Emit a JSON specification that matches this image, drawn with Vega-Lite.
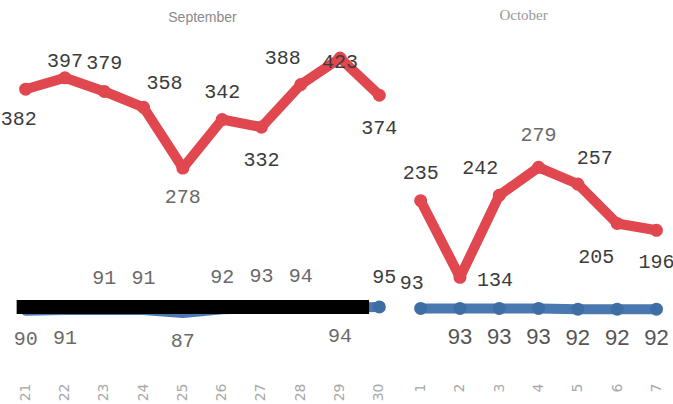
{
  "$schema": "https://vega.github.io/schema/vega-lite/v6.json",
  "background": "white",
  "padding": {"left": 0, "top": 8, "right": 0, "bottom": 0},
  "spacing": 0,
  "config": {"view": {"stroke": null}, "concat": {"spacing": 0}},
  "data": {"values": [
    {"month": "September", "day": 21, "total": 382, "rate": 90},
    {"month": "September", "day": 22, "total": 397, "rate": 91},
    {"month": "September", "day": 23, "total": 379, "rate": 91},
    {"month": "September", "day": 24, "total": 358, "rate": 91},
    {"month": "September", "day": 25, "total": 278, "rate": 87},
    {"month": "September", "day": 26, "total": 342, "rate": 92},
    {"month": "September", "day": 27, "total": 332, "rate": 93},
    {"month": "September", "day": 28, "total": 388, "rate": 94},
    {"month": "September", "day": 29, "total": 423, "rate": 94},
    {"month": "September", "day": 30, "total": 374, "rate": 95},
    {"month": "October", "day": 1, "total": 235, "rate": 93},
    {"month": "October", "day": 2, "total": 134, "rate": 93},
    {"month": "October", "day": 3, "total": 242, "rate": 93},
    {"month": "October", "day": 4, "total": 279, "rate": 93},
    {"month": "October", "day": 5, "total": 257, "rate": 92},
    {"month": "October", "day": 6, "total": 205, "rate": 92},
    {"month": "October", "day": 7, "total": 196, "rate": 92}
  ]},
  "hconcat": [
    {
      "width": {"step": 39.3},
      "height": 349,
      "title": {"text": "September", "font": "Liberation Sans", "fontSize": 14, "fontWeight": "normal", "color": "#8a8a8a", "anchor": "middle", "offset": 12, "dy": 7},
      "transform": [{"filter": "datum.month === 'September'"}],
      "encoding": {
        "x": {"field": "day", "type": "ordinal", "title": null,
          "axis": {"labelAngle": -90, "domain": false, "ticks": false, "grid": false, "labelColor": "#a8a8a8", "labelFontSize": 14, "labelFont": "DejaVu Sans", "labelPadding": 4}}
      },
      "layer": [
        {"mark": {"type": "line", "color": "#4a78b0", "strokeWidth": 10, "strokeCap": "round", "strokeJoin": "round"},
         "encoding": {"y": {"field": "rate", "type": "quantitative", "scale": {"domain": [0, 460], "nice": false}, "axis": null}}},
        {"transform": [{"filter": "datum.day === 30"}],
         "mark": {"type": "point", "filled": true, "color": "#3f6ea5", "opacity": 1, "size": 170},
         "encoding": {"y": {"field": "rate", "type": "quantitative", "scale": {"domain": [0, 460], "nice": false}, "axis": null}}},
        {"transform": [{"filter": "datum.day === 21"}],
         "mark": {"type": "rule", "color": "black", "strokeWidth": 14, "xOffset": -9, "x2Offset": 29},
         "encoding": {"x2": {"datum": 29}, "y": {"datum": 95, "type": "quantitative", "scale": {"domain": [0, 460], "nice": false}, "axis": null}}},
        {"mark": {"type": "line", "color": "#e0474f", "strokeWidth": 10, "strokeCap": "round", "strokeJoin": "round"},
         "encoding": {"y": {"field": "total", "type": "quantitative", "scale": {"domain": [0, 460], "nice": false}, "axis": null}}},
        {"mark": {"type": "point", "filled": true, "color": "#e0474f", "opacity": 1, "size": 170},
         "encoding": {"y": {"field": "total", "type": "quantitative", "scale": {"domain": [0, 460], "nice": false}, "axis": null}}},
        {"transform": [{"filter": {"field": "day", "oneOf": [23, 26]}}],
         "mark": {"type": "text", "font": "Liberation Mono", "fontSize": 20, "color": "#3c3c3c", "dy": -28},
         "encoding": {"y": {"field": "total", "type": "quantitative", "scale": {"domain": [0, 460], "nice": false}, "axis": null}, "text": {"field": "total", "type": "quantitative"}}},
        {"transform": [{"filter": {"field": "day", "oneOf": [22]}}],
         "mark": {"type": "text", "font": "Liberation Mono", "fontSize": 20, "color": "#3c3c3c", "dy": -17},
         "encoding": {"y": {"field": "total", "type": "quantitative", "scale": {"domain": [0, 460], "nice": false}, "axis": null}, "text": {"field": "total", "type": "quantitative"}}},
        {"transform": [{"filter": {"field": "day", "oneOf": [28]}}],
         "mark": {"type": "text", "font": "Liberation Mono", "fontSize": 20, "color": "#3c3c3c", "dx": -18, "dy": -27},
         "encoding": {"y": {"field": "total", "type": "quantitative", "scale": {"domain": [0, 460], "nice": false}, "axis": null}, "text": {"field": "total", "type": "quantitative"}}},
        {"transform": [{"filter": {"field": "day", "oneOf": [24]}}],
         "mark": {"type": "text", "font": "Liberation Mono", "fontSize": 20, "color": "#3c3c3c", "dx": 21, "dy": -24},
         "encoding": {"y": {"field": "total", "type": "quantitative", "scale": {"domain": [0, 460], "nice": false}, "axis": null}, "text": {"field": "total", "type": "quantitative"}}},
        {"transform": [{"filter": {"field": "day", "oneOf": [21]}}],
         "mark": {"type": "text", "font": "Liberation Mono", "fontSize": 20, "color": "#3c3c3c", "dx": -7, "dy": 30},
         "encoding": {"y": {"field": "total", "type": "quantitative", "scale": {"domain": [0, 460], "nice": false}, "axis": null}, "text": {"field": "total", "type": "quantitative"}}},
        {"transform": [{"filter": {"field": "day", "oneOf": [27, 30]}}],
         "mark": {"type": "text", "font": "Liberation Mono", "fontSize": 20, "color": "#3c3c3c", "dy": 33},
         "encoding": {"y": {"field": "total", "type": "quantitative", "scale": {"domain": [0, 460], "nice": false}, "axis": null}, "text": {"field": "total", "type": "quantitative"}}},
        {"transform": [{"filter": {"field": "day", "oneOf": [25]}}],
         "mark": {"type": "text", "font": "Liberation Mono", "fontSize": 20, "color": "#6a6a6a", "dy": 29},
         "encoding": {"y": {"field": "total", "type": "quantitative", "scale": {"domain": [0, 460], "nice": false}, "axis": null}, "text": {"field": "total", "type": "quantitative"}}},
        {"transform": [{"filter": {"field": "day", "oneOf": [29]}}],
         "mark": {"type": "text", "font": "Liberation Mono", "fontSize": 20, "color": "#3c3c3c", "dy": 4},
         "encoding": {"y": {"field": "total", "type": "quantitative", "scale": {"domain": [0, 460], "nice": false}, "axis": null}, "text": {"field": "total", "type": "quantitative"}}},
        {"transform": [{"filter": {"field": "day", "oneOf": [23, 24, 26, 27, 28]}}],
         "mark": {"type": "text", "font": "Liberation Mono", "fontSize": 20, "color": "#6a6a6a", "dy": -32},
         "encoding": {"y": {"field": "rate", "type": "quantitative", "scale": {"domain": [0, 460], "nice": false}, "axis": null}, "text": {"field": "rate", "type": "quantitative"}}},
        {"transform": [{"filter": {"field": "day", "oneOf": [30]}}],
         "mark": {"type": "text", "font": "Liberation Mono", "fontSize": 20, "color": "#3c3c3c", "dx": 5, "dy": -30},
         "encoding": {"y": {"field": "rate", "type": "quantitative", "scale": {"domain": [0, 460], "nice": false}, "axis": null}, "text": {"field": "rate", "type": "quantitative"}}},
        {"transform": [{"filter": {"field": "day", "oneOf": [21, 22, 25, 29]}}],
         "mark": {"type": "text", "font": "Liberation Mono", "fontSize": 20, "color": "#6a6a6a", "dy": 28},
         "encoding": {"y": {"field": "rate", "type": "quantitative", "scale": {"domain": [0, 460], "nice": false}, "axis": null}, "text": {"field": "rate", "type": "quantitative"}}}
      ]
    },
    {
      "width": {"step": 39.3},
      "height": 349,
      "title": {"text": "October", "font": "Liberation Serif", "fontSize": 15, "fontWeight": "normal", "color": "#999999", "anchor": "middle", "offset": 12, "dx": -15, "dy": 5},
      "transform": [{"filter": "datum.month === 'October'"}],
      "encoding": {
        "x": {"field": "day", "type": "ordinal", "title": null,
          "axis": {"labelAngle": -90, "domain": false, "ticks": false, "grid": false, "labelColor": "#a8a8a8", "labelFontSize": 14, "labelFont": "DejaVu Sans", "labelPadding": 4}}
      },
      "layer": [
        {"mark": {"type": "line", "color": "#4a78b0", "strokeWidth": 10, "strokeCap": "round", "strokeJoin": "round"},
         "encoding": {"y": {"field": "rate", "type": "quantitative", "scale": {"domain": [0, 460], "nice": false}, "axis": null}}},
        {"mark": {"type": "point", "filled": true, "color": "#3f6ea5", "opacity": 1, "size": 170},
         "encoding": {"y": {"field": "rate", "type": "quantitative", "scale": {"domain": [0, 460], "nice": false}, "axis": null}}},
        {"mark": {"type": "line", "color": "#e0474f", "strokeWidth": 10, "strokeCap": "round", "strokeJoin": "round"},
         "encoding": {"y": {"field": "total", "type": "quantitative", "scale": {"domain": [0, 460], "nice": false}, "axis": null}}},
        {"mark": {"type": "point", "filled": true, "color": "#e0474f", "opacity": 1, "size": 170},
         "encoding": {"y": {"field": "total", "type": "quantitative", "scale": {"domain": [0, 460], "nice": false}, "axis": null}}},
        {"transform": [{"filter": {"field": "day", "oneOf": [1]}}],
         "mark": {"type": "text", "font": "Liberation Mono", "fontSize": 20, "color": "#3c3c3c", "dy": -28},
         "encoding": {"y": {"field": "total", "type": "quantitative", "scale": {"domain": [0, 460], "nice": false}, "axis": null}, "text": {"field": "total", "type": "quantitative"}}},
        {"transform": [{"filter": {"field": "day", "oneOf": [4]}}],
         "mark": {"type": "text", "font": "Liberation Mono", "fontSize": 20, "color": "#6a6a6a", "dy": -32},
         "encoding": {"y": {"field": "total", "type": "quantitative", "scale": {"domain": [0, 460], "nice": false}, "axis": null}, "text": {"field": "total", "type": "quantitative"}}},
        {"transform": [{"filter": {"field": "day", "oneOf": [3]}}],
         "mark": {"type": "text", "font": "Liberation Mono", "fontSize": 20, "color": "#3c3c3c", "dx": -19, "dy": -27},
         "encoding": {"y": {"field": "total", "type": "quantitative", "scale": {"domain": [0, 460], "nice": false}, "axis": null}, "text": {"field": "total", "type": "quantitative"}}},
        {"transform": [{"filter": {"field": "day", "oneOf": [5]}}],
         "mark": {"type": "text", "font": "Liberation Mono", "fontSize": 20, "color": "#3c3c3c", "dx": 17, "dy": -26},
         "encoding": {"y": {"field": "total", "type": "quantitative", "scale": {"domain": [0, 460], "nice": false}, "axis": null}, "text": {"field": "total", "type": "quantitative"}}},
        {"transform": [{"filter": {"field": "day", "oneOf": [2]}}],
         "mark": {"type": "text", "font": "Liberation Mono", "fontSize": 20, "color": "#3c3c3c", "dx": 35, "dy": 3},
         "encoding": {"y": {"field": "total", "type": "quantitative", "scale": {"domain": [0, 460], "nice": false}, "axis": null}, "text": {"field": "total", "type": "quantitative"}}},
        {"transform": [{"filter": {"field": "day", "oneOf": [6]}}],
         "mark": {"type": "text", "font": "Liberation Mono", "fontSize": 20, "color": "#3c3c3c", "dx": -21, "dy": 34},
         "encoding": {"y": {"field": "total", "type": "quantitative", "scale": {"domain": [0, 460], "nice": false}, "axis": null}, "text": {"field": "total", "type": "quantitative"}}},
        {"transform": [{"filter": {"field": "day", "oneOf": [7]}}],
         "mark": {"type": "text", "font": "Liberation Mono", "fontSize": 20, "color": "#3c3c3c", "dy": 32},
         "encoding": {"y": {"field": "total", "type": "quantitative", "scale": {"domain": [0, 460], "nice": false}, "axis": null}, "text": {"field": "total", "type": "quantitative"}}},
        {"transform": [{"filter": {"field": "day", "oneOf": [1]}}],
         "mark": {"type": "text", "font": "Liberation Mono", "fontSize": 20, "color": "#3c3c3c", "dx": -9, "dy": -25},
         "encoding": {"y": {"field": "rate", "type": "quantitative", "scale": {"domain": [0, 460], "nice": false}, "axis": null}, "text": {"field": "rate", "type": "quantitative"}}},
        {"transform": [{"filter": {"field": "day", "oneOf": [2, 3, 4, 5, 6, 7]}}],
         "mark": {"type": "text", "font": "Liberation Sans", "fontSize": 22, "color": "#555555", "dy": 29},
         "encoding": {"y": {"field": "rate", "type": "quantitative", "scale": {"domain": [0, 460], "nice": false}, "axis": null}, "text": {"field": "rate", "type": "quantitative"}}}
      ]
    }
  ]
}
